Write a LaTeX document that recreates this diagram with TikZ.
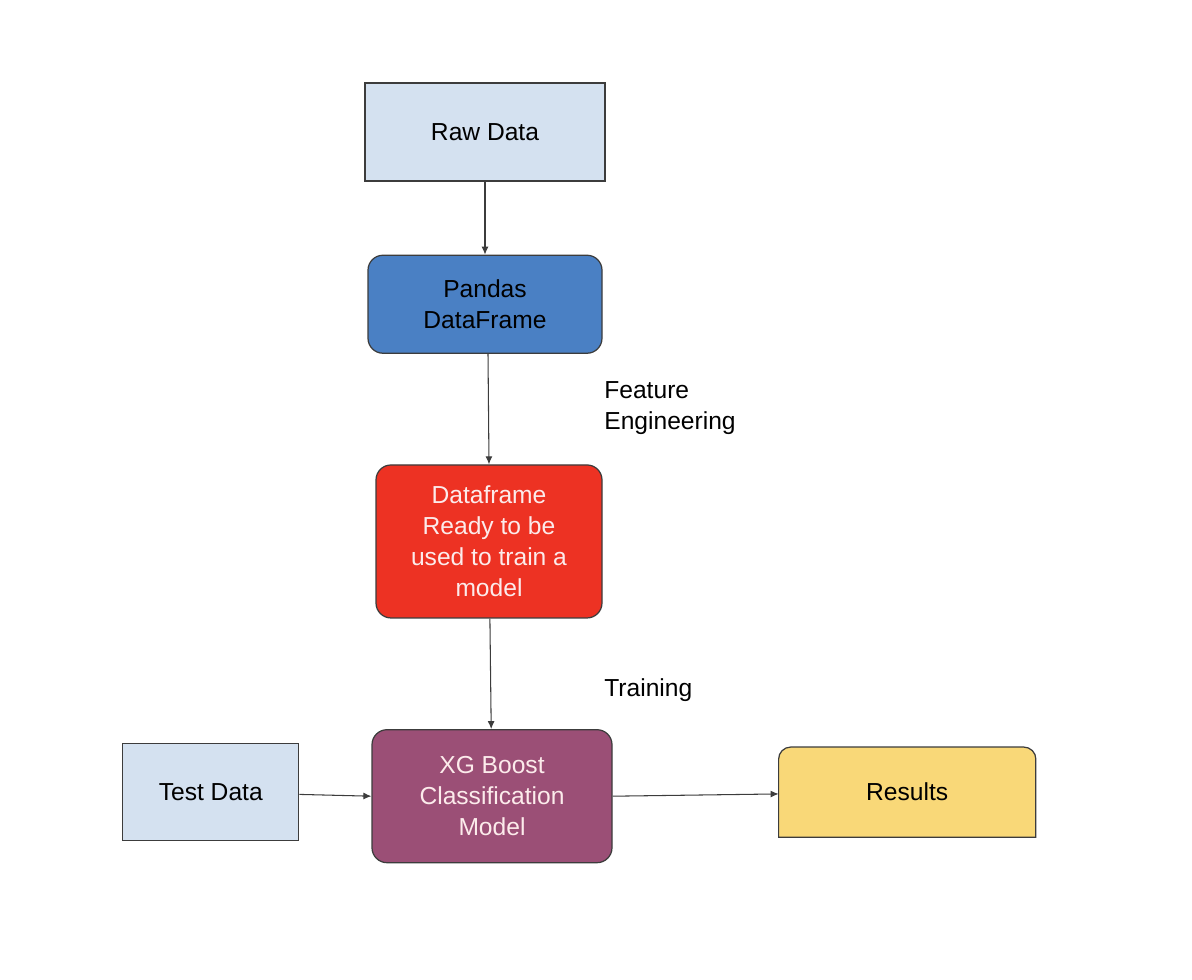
\documentclass[tikz,border=0pt]{standalone}
\usepackage{fontspec}
\setmainfont{Liberation Sans}
\usetikzlibrary{arrows.meta, positioning, backgrounds}

\definecolor{rawblue}{HTML}{D4E1F0}
\definecolor{pandasblue}{HTML}{4A80C4}
\definecolor{readyred}{HTML}{ED3223}
\definecolor{xgbpurple}{HTML}{9B4F76}
\definecolor{resyellow}{HTML}{F9D878}
\definecolor{edgegray}{HTML}{3C3C3C}
\definecolor{paletext}{HTML}{FCEBEB}

\begin{document}
\begin{tikzpicture}[
		box/.style={rectangle, draw=edgegray, line width=0.7pt, align=center, inner sep=0pt, font=\fontsize{14pt}{17.6pt}\selectfont},
		databox/.style={box, fill=rawblue},
		procbox/.style={box, rounded corners=0.3cm},
		arrow/.style={-{Latex[length=1.6mm, width=1.4mm]}, draw=edgegray, line width=0.6pt},
		steplabel/.style={align=left, inner sep=0pt, anchor=west, font=\fontsize{14pt}{17.6pt}\selectfont}
		]
		\useasboundingbox (0,0) rectangle (23.84,-19.6);
		
		% Main chain
		\node[databox, minimum width=4.8cm, minimum height=1.96cm] (raw) at (9.70,-2.64) {Raw Data};
		\node[procbox, fill=pandasblue, minimum width=4.68cm, minimum height=1.96cm, below=1.46cm of raw] (pandas) {Pandas\\DataFrame};
		\node[procbox, fill=readyred, text=paletext, minimum width=4.52cm, minimum height=3.06cm, below=2.21cm of pandas, xshift=0.08cm] (ready) {Dataframe\\Ready to be\\used to train a\\model};
		\node[procbox, fill=xgbpurple, text=paletext, minimum width=4.8cm, minimum height=2.66cm, below=2.21cm of ready, xshift=0.06cm] (xgb) {XG Boost\\Classification\\Model};
		
		% Side boxes
		\node[databox, minimum width=3.52cm, minimum height=1.94cm, left=1.44cm of xgb, yshift=0.08cm] (test) {Test Data};
		\node[box, draw=none, minimum width=5.12cm, minimum height=1.78cm, right=3.32cm of xgb, yshift=0.08cm] (res) {Results};
		\begin{scope}[on background layer]
			\draw[draw=edgegray, line width=0.7pt, fill=resyellow] (res.south west) [rounded corners=0.24cm] -- (res.north west) -- (res.north east) [sharp corners] -- (res.south east) -- cycle;
		\end{scope}
		
		% Arrows
		\draw[arrow] (raw) -- (pandas);
		\draw[arrow] ([xshift=0.06cm]pandas.south) -- (ready.north);
		\draw[arrow] (ready) -- (xgb);
		\draw[arrow] (test) -- (xgb.west);
		\draw[arrow] (xgb.east) -- (res);
		
		% Labels
		\node[steplabel] (fe) at (12.08,-8.16) {Feature\\Engineering};
		\node[steplabel] (train) at (12.08,-13.8) {Training};
		
	\end{tikzpicture}
\end{document}
